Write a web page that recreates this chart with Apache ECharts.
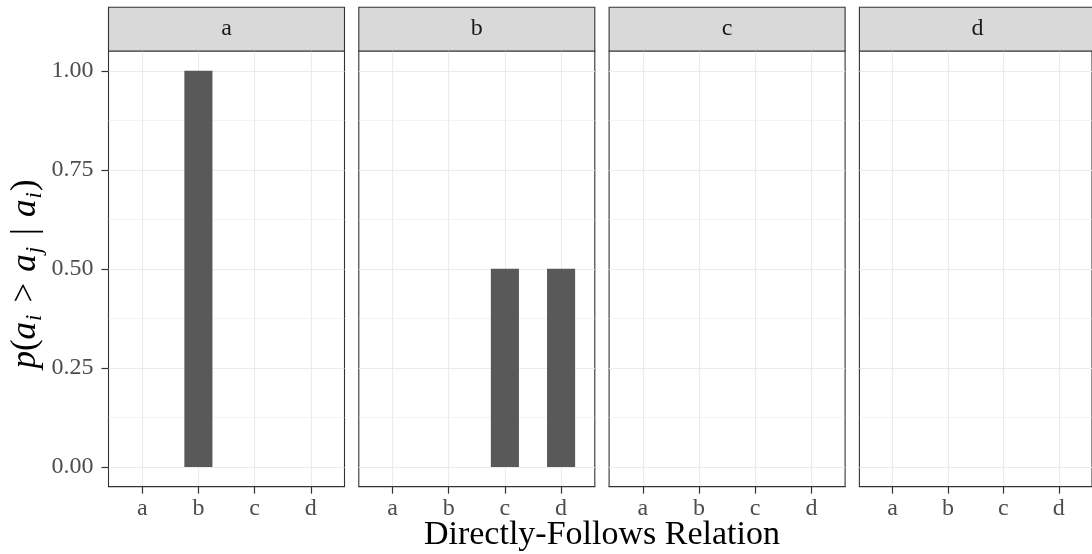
<!DOCTYPE html>
<html>
<head>
<meta charset="utf-8">
<script src="https://cdn.jsdelivr.net/npm/echarts@6/dist/echarts.min.js"></script>
<style>
  html, body { margin: 0; padding: 0; background: #ffffff; }
  #chart { width: 1092px; height: 554px; }
</style>
</head>
<body>
<div id="chart"></div>
<script>
// Facets (one panel per source activity) and the x categories inside each panel
const facets = ['a', 'b', 'c', 'd'];
const relations = ['a', 'b', 'c', 'd'];

// Probability of each directly-follows relation, one array per facet
const probA = [0, 1, 0, 0];
const probB = [0, 0, 0.5, 0.5];
const probC = [0, 0, 0, 0];
const probD = [0, 0, 0, 0];
const panelValues = [probA, probB, probC, probD];

// Y axis ticks and labels
const yTicks = [0, 0.25, 0.5, 0.75, 1];
const yTickLabels = ['0.00', '0.25', '0.50', '0.75', '1.00'];
const yMinorTicks = [0.125, 0.375, 0.625, 0.875];

// Layout
const FONT = '"Liberation Serif", "DejaVu Serif", serif';
const PANEL_LEFT = 108.5;
const PANEL_STEP = 250.3;
const PANEL_W = 236;
const PANEL_TOP = 51;
const PANEL_H = 435.7;
const STRIP_TOP = 7.3;
const BORDER = '#333333';
const GRID_COLOR = '#EBEBEB';
const TICK_TEXT = '#4D4D4D';

const xPositions = relations.map((_, i) => i + 1);

const grids = [], xAxes = [], yAxes = [], series = [], graphics = [];

facets.forEach((name, p) => {
  const left = PANEL_LEFT + p * PANEL_STEP;
  grids.push({
    left: left, top: PANEL_TOP, width: PANEL_W, height: PANEL_H,
    show: true, borderColor: BORDER, borderWidth: 1.1, backgroundColor: '#ffffff'
  });

  xAxes.push({
    gridIndex: p, type: 'value', min: 0.4, max: 4.6, position: 'bottom',
    axisLine: { show: true, onZero: false, lineStyle: { color: BORDER, width: 1.1 } },
    axisTick: { show: true, inside: false, length: 7, lineStyle: { color: BORDER, width: 1.2 }, customValues: xPositions },
    axisLabel: {
      customValues: xPositions, margin: 10,
      formatter: v => relations[Math.round(v) - 1] || '',
      color: TICK_TEXT, fontFamily: FONT, fontSize: 24
    },
    splitLine: { show: true, lineStyle: { color: GRID_COLOR, width: 1.1 } }
  });

  // major y axis (labels only on the first panel)
  yAxes.push({
    gridIndex: p, type: 'value', min: -0.05, max: 1.05, position: 'left',
    axisLine: { show: false, onZero: false },
    axisTick: { show: p === 0, length: 7, lineStyle: { color: BORDER, width: 1.2 }, customValues: yTicks },
    axisLabel: {
      show: p === 0, customValues: yTicks, margin: 15,
      formatter: v => {
        const k = yTicks.findIndex(t => Math.abs(t - v) < 1e-9);
        return k >= 0 ? yTickLabels[k] : '';
      },
      color: TICK_TEXT, fontFamily: FONT, fontSize: 24
    },
    splitLine: { show: true, lineStyle: { color: GRID_COLOR, width: 1.1 } }
  });
  // minor y grid lines
  yAxes.push({
    gridIndex: p, type: 'value', min: -0.05, max: 1.05, position: 'left',
    axisLine: { show: false, onZero: false },
    axisTick: { show: false, customValues: yMinorTicks },
    axisLabel: { show: false, customValues: yMinorTicks },
    splitLine: { show: true, lineStyle: { color: GRID_COLOR, width: 0.6 } }
  });

  series.push({
    type: 'bar',
    xAxisIndex: p,
    yAxisIndex: p * 2,
    barWidth: '50%',
    itemStyle: { color: '#595959' },
    silent: true,
    data: panelValues[p].map((v, i) => [xPositions[i], v])
  });

  // facet strip
  graphics.push({
    type: 'rect',
    shape: { x: left, y: STRIP_TOP, width: PANEL_W, height: PANEL_TOP - STRIP_TOP },
    style: { fill: '#D9D9D9', stroke: BORDER, lineWidth: 1.1 },
    z: 10
  });
  graphics.push({
    type: 'text',
    x: left + PANEL_W / 2, y: (STRIP_TOP + PANEL_TOP) / 2,
    style: { text: name, fill: '#1A1A1A', font: '24px ' + FONT, align: 'center', verticalAlign: 'middle' },
    z: 11
  });
});

// axis titles
graphics.push({
  type: 'text',
  x: PANEL_LEFT + (3 * PANEL_STEP + PANEL_W) / 2, y: 535,
  style: { text: 'Directly-Follows Relation', fill: '#000000', font: '34px ' + FONT, align: 'center', verticalAlign: 'middle' },
  z: 11
});
graphics.push({
  type: 'text',
  x: 26, y: 274,
  rotation: Math.PI / 2,
  style: {
    text: '{i|p}{r|(}{i|a}{s|i}{o|>}{i|a}{s|j}{o||}{i|a}{s|i}{r|)}',
    align: 'center', verticalAlign: 'middle',
    rich: {
      i: { fontFamily: FONT, fontStyle: 'italic', fontSize: 35, lineHeight: 40, fill: '#000' },
      r: { fontFamily: FONT, fontSize: 35, lineHeight: 40, fill: '#000' },
      o: { fontFamily: FONT, fontSize: 35, lineHeight: 40, fill: '#000', padding: [0, 11, 0, 11] },
      s: { fontFamily: FONT, fontStyle: 'italic', fontSize: 23, lineHeight: 23, verticalAlign: 'bottom', fill: '#000', padding: [0, 1, 0, 1] }
    }
  },
  z: 11
});

const chart = echarts.init(document.getElementById('chart'), null, { renderer: 'canvas' });
chart.setOption({
  animation: false,
  backgroundColor: '#ffffff',
  grid: grids,
  xAxis: xAxes,
  yAxis: yAxes,
  series: series,
  graphic: { elements: graphics }
});
</script>
</body>
</html>
